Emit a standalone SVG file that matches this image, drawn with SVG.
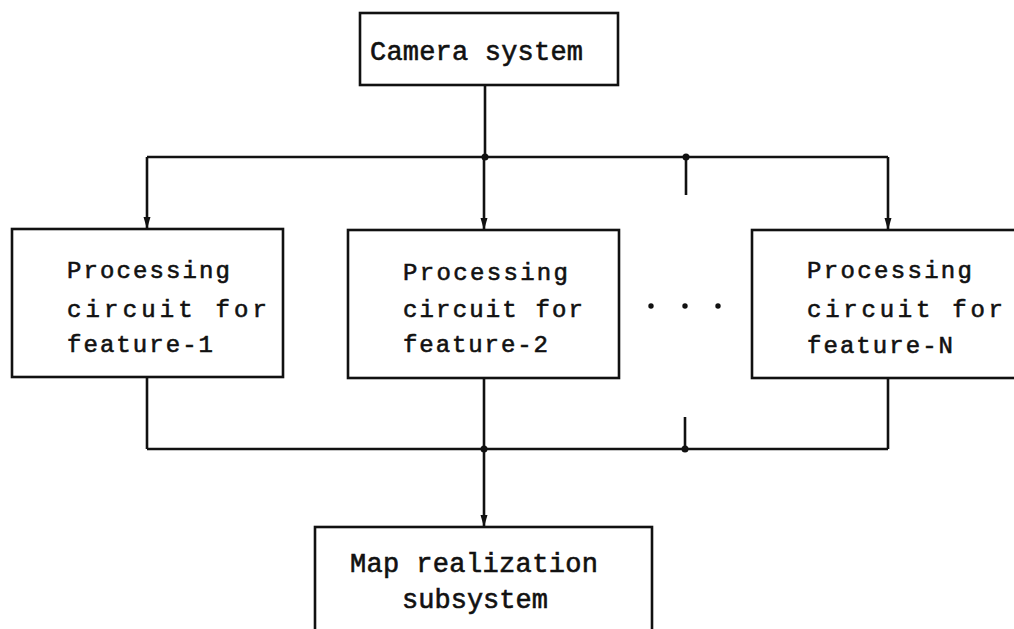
<svg xmlns="http://www.w3.org/2000/svg" width="1014" height="629" viewBox="0 0 1014 629">
  <style>
    .box { fill: #ffffff; stroke: #111111; stroke-width: 2.6; }
    .wire { fill: none; stroke: #111111; stroke-width: 2.6; }
    .dot { fill: #111111; }
    .t { font-family: "Liberation Mono", "DejaVu Sans Mono", monospace; fill: #111111; stroke: #111111; stroke-width: 0.6; }
    .small { font-size: 24px; }
    .big { font-size: 27px; }
  </style>
  <defs>
    <marker id="arrow" markerUnits="userSpaceOnUse" markerWidth="12" markerHeight="8" refX="12" refY="4" orient="auto">
      <path d="M0,0.5 L12,4 L0,7.5 z" fill="#111111"/>
    </marker>
  </defs>
  <rect width="1014" height="629" fill="#ffffff"/>

  <g id="connectors">
    <line class="wire" x1="485" y1="85" x2="485" y2="157"/>
    <line class="wire" x1="147" y1="157" x2="888" y2="157"/>
    <line class="wire" x1="147" y1="157" x2="147" y2="229" marker-end="url(#arrow)"/>
    <line class="wire" x1="484" y1="157" x2="484" y2="230" marker-end="url(#arrow)"/>
    <line class="wire" x1="888" y1="157" x2="888" y2="230" marker-end="url(#arrow)"/>
    <line class="wire" x1="686" y1="157" x2="686" y2="195"/>
    <circle class="dot" cx="485" cy="157" r="3.5"/>
    <circle class="dot" cx="686" cy="157" r="3.5"/>

    <line class="wire" x1="147" y1="377" x2="147" y2="449"/>
    <line class="wire" x1="484" y1="378" x2="484" y2="449"/>
    <line class="wire" x1="888" y1="378" x2="888" y2="449"/>
    <line class="wire" x1="147" y1="449" x2="888" y2="449"/>
    <line class="wire" x1="685" y1="417" x2="685" y2="449"/>
    <circle class="dot" cx="484" cy="449" r="3.5"/>
    <circle class="dot" cx="685" cy="449" r="3.5"/>
    <line class="wire" x1="484" y1="449" x2="484" y2="527" marker-end="url(#arrow)"/>
  </g>

  <g id="camera">
    <rect class="box" x="360" y="13" width="258" height="72"/>
    <text class="t big" x="370" y="60" textLength="213" lengthAdjust="spacing">Camera system</text>
  </g>

  <g id="feature1">
    <rect class="box" x="12" y="229" width="271" height="148"/>
    <text class="t small" x="67" y="278" textLength="163" lengthAdjust="spacing">Processing</text>
    <text class="t small" x="67" y="317" textLength="200" lengthAdjust="spacing">circuit for</text>
    <text class="t small" x="67" y="352" textLength="146" lengthAdjust="spacing">feature-1</text>
  </g>

  <g id="feature2">
    <rect class="box" x="348" y="230" width="271" height="148"/>
    <text class="t small" x="403" y="280" textLength="165" lengthAdjust="spacing">Processing</text>
    <text class="t small" x="403" y="317" textLength="180" lengthAdjust="spacing">circuit for</text>
    <text class="t small" x="403" y="352" textLength="145" lengthAdjust="spacing">feature-2</text>
  </g>

  <g id="ellipsis">
    <circle class="dot" cx="651" cy="306" r="2.7"/>
    <circle class="dot" cx="685" cy="306" r="2.7"/>
    <circle class="dot" cx="718" cy="306" r="2.7"/>
  </g>

  <g id="featureN">
    <rect class="box" x="752" y="230" width="280" height="148"/>
    <text class="t small" x="807" y="278" textLength="165" lengthAdjust="spacing">Processing</text>
    <text class="t small" x="807" y="317" textLength="196" lengthAdjust="spacing">circuit for</text>
    <text class="t small" x="807" y="353" textLength="146" lengthAdjust="spacing">feature-N</text>
  </g>

  <g id="map">
    <rect class="box" x="315" y="527" width="337" height="120"/>
    <text class="t big" x="350" y="572" textLength="248" lengthAdjust="spacing">Map realization</text>
    <text class="t big" x="402" y="608" textLength="146" lengthAdjust="spacing">subsystem</text>
  </g>
</svg>
